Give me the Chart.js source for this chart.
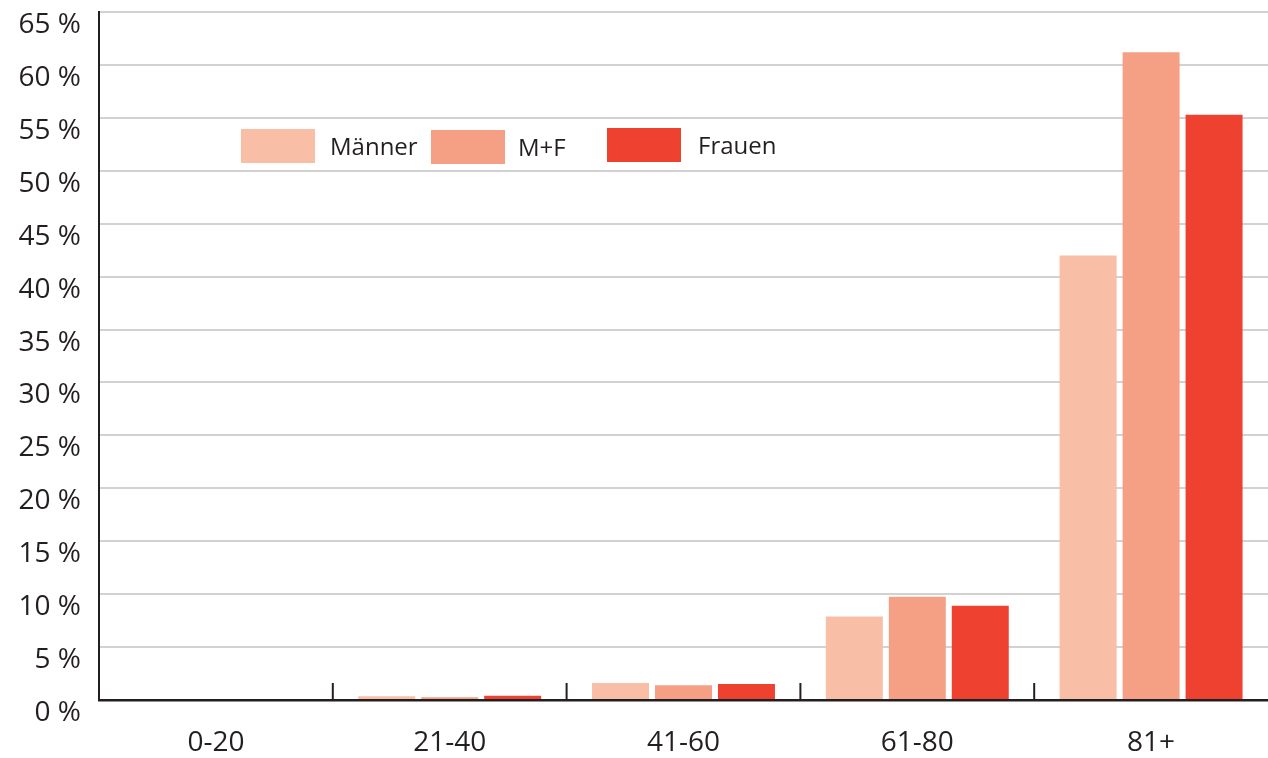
<!DOCTYPE html>
<html>
<head>
<meta charset="utf-8">
<script src="https://cdn.jsdelivr.net/npm/chart.js@4"></script>
<style>
  body { margin: 0; background: #fff; }
  #wrap { width: 1268px; height: 758px; }
</style>
</head>
<body>
<div id="wrap"><canvas id="chart" width="1268" height="758"></canvas></div>
<script>
const categories = ['0-20', '21-40', '41-60', '61-80', '81+'];
const maenner = [0, 0.35, 1.6, 7.9, 42.0];
const mf = [0, 0.25, 1.4, 9.75, 61.2];
const frauen = [0, 0.4, 1.5, 8.9, 55.3];
const seriesLabels = ['Männer', 'M+F', 'Frauen'];
const seriesColors = ['#f9bfa6', '#f5a084', '#ef4130'];

const FONT = '"Open Sans", Lato, sans-serif';
const INK = '#231f20';

// group tick marks drawn upward between categories
const catTicks = {
    id: 'catTicks',
    afterDatasetsDraw(chart) {
        const { ctx, scales: { x, y } } = chart;
        const base = y.getPixelForValue(0);
        ctx.save();
        ctx.strokeStyle = INK;
        ctx.lineWidth = 2;
        for (let i = 1; i < categories.length; i++) {
            const px = x.getPixelForValue(i - 0.5);
            ctx.beginPath();
            ctx.moveTo(px, base);
            ctx.lineTo(px, base - 17);
            ctx.stroke();
        }
        ctx.restore();
    }
};

// legend placed inside the plot, upper left
const innerLegend = {
    id: 'innerLegend',
    afterDraw(chart) {
        const { ctx } = chart;
        const items = [
            { bx: 241, by: 129, tx: 330 },
            { bx: 431, by: 130, tx: 518 },
            { bx: 607, by: 128, tx: 698 }
        ];
        ctx.save();
        ctx.font = '24px ' + FONT;
        ctx.textBaseline = 'middle';
        chart.data.datasets.forEach((ds, i) => {
            const it = items[i];
            ctx.fillStyle = ds.backgroundColor;
            ctx.fillRect(it.bx, it.by, 74, 34);
            ctx.fillStyle = INK;
            ctx.fillText(ds.label, it.tx, it.by + 19);
        });
        ctx.restore();
    }
};

new Chart(document.getElementById('chart'), {
    type: 'bar',
    data: {
        labels: categories,
        datasets: [
            { label: seriesLabels[0], data: maenner, backgroundColor: seriesColors[0] },
            { label: seriesLabels[1], data: mf, backgroundColor: seriesColors[1] },
            { label: seriesLabels[2], data: frauen, backgroundColor: seriesColors[2] }
        ]
    },
    options: {
        responsive: false,
        animation: false,
        layout: { padding: { top: 12, right: 0, left: 0, bottom: 0 } },
        datasets: { bar: { categoryPercentage: 0.808, barPercentage: 0.905 } },
        plugins: { legend: { display: false }, tooltip: { enabled: false } },
        scales: {
            x: {
                grid: { display: false },
                border: { display: true, color: INK, width: 2.5 },
                ticks: { color: INK, font: { family: FONT, size: 28 }, padding: 18 },
                afterFit(s) { s.height = 58; s.paddingLeft = 0; s.paddingRight = 0; }
            },
            y: {
                min: 0, max: 65,
                grid: { color: '#d2d2d2', lineWidth: 2, drawTicks: false },
                border: { display: true, color: INK, width: 2 },
                ticks: {
                    stepSize: 5, color: INK, padding: 18, labelOffset: 13,
                    font: { family: FONT, size: 28 },
                    callback: v => v + ' %'
                },
                afterFit(s) { s.width = 99; s.paddingTop = 0; s.paddingBottom = 0; }
            }
        }
    },
    plugins: [catTicks, innerLegend]
});
</script>
</body>
</html>
